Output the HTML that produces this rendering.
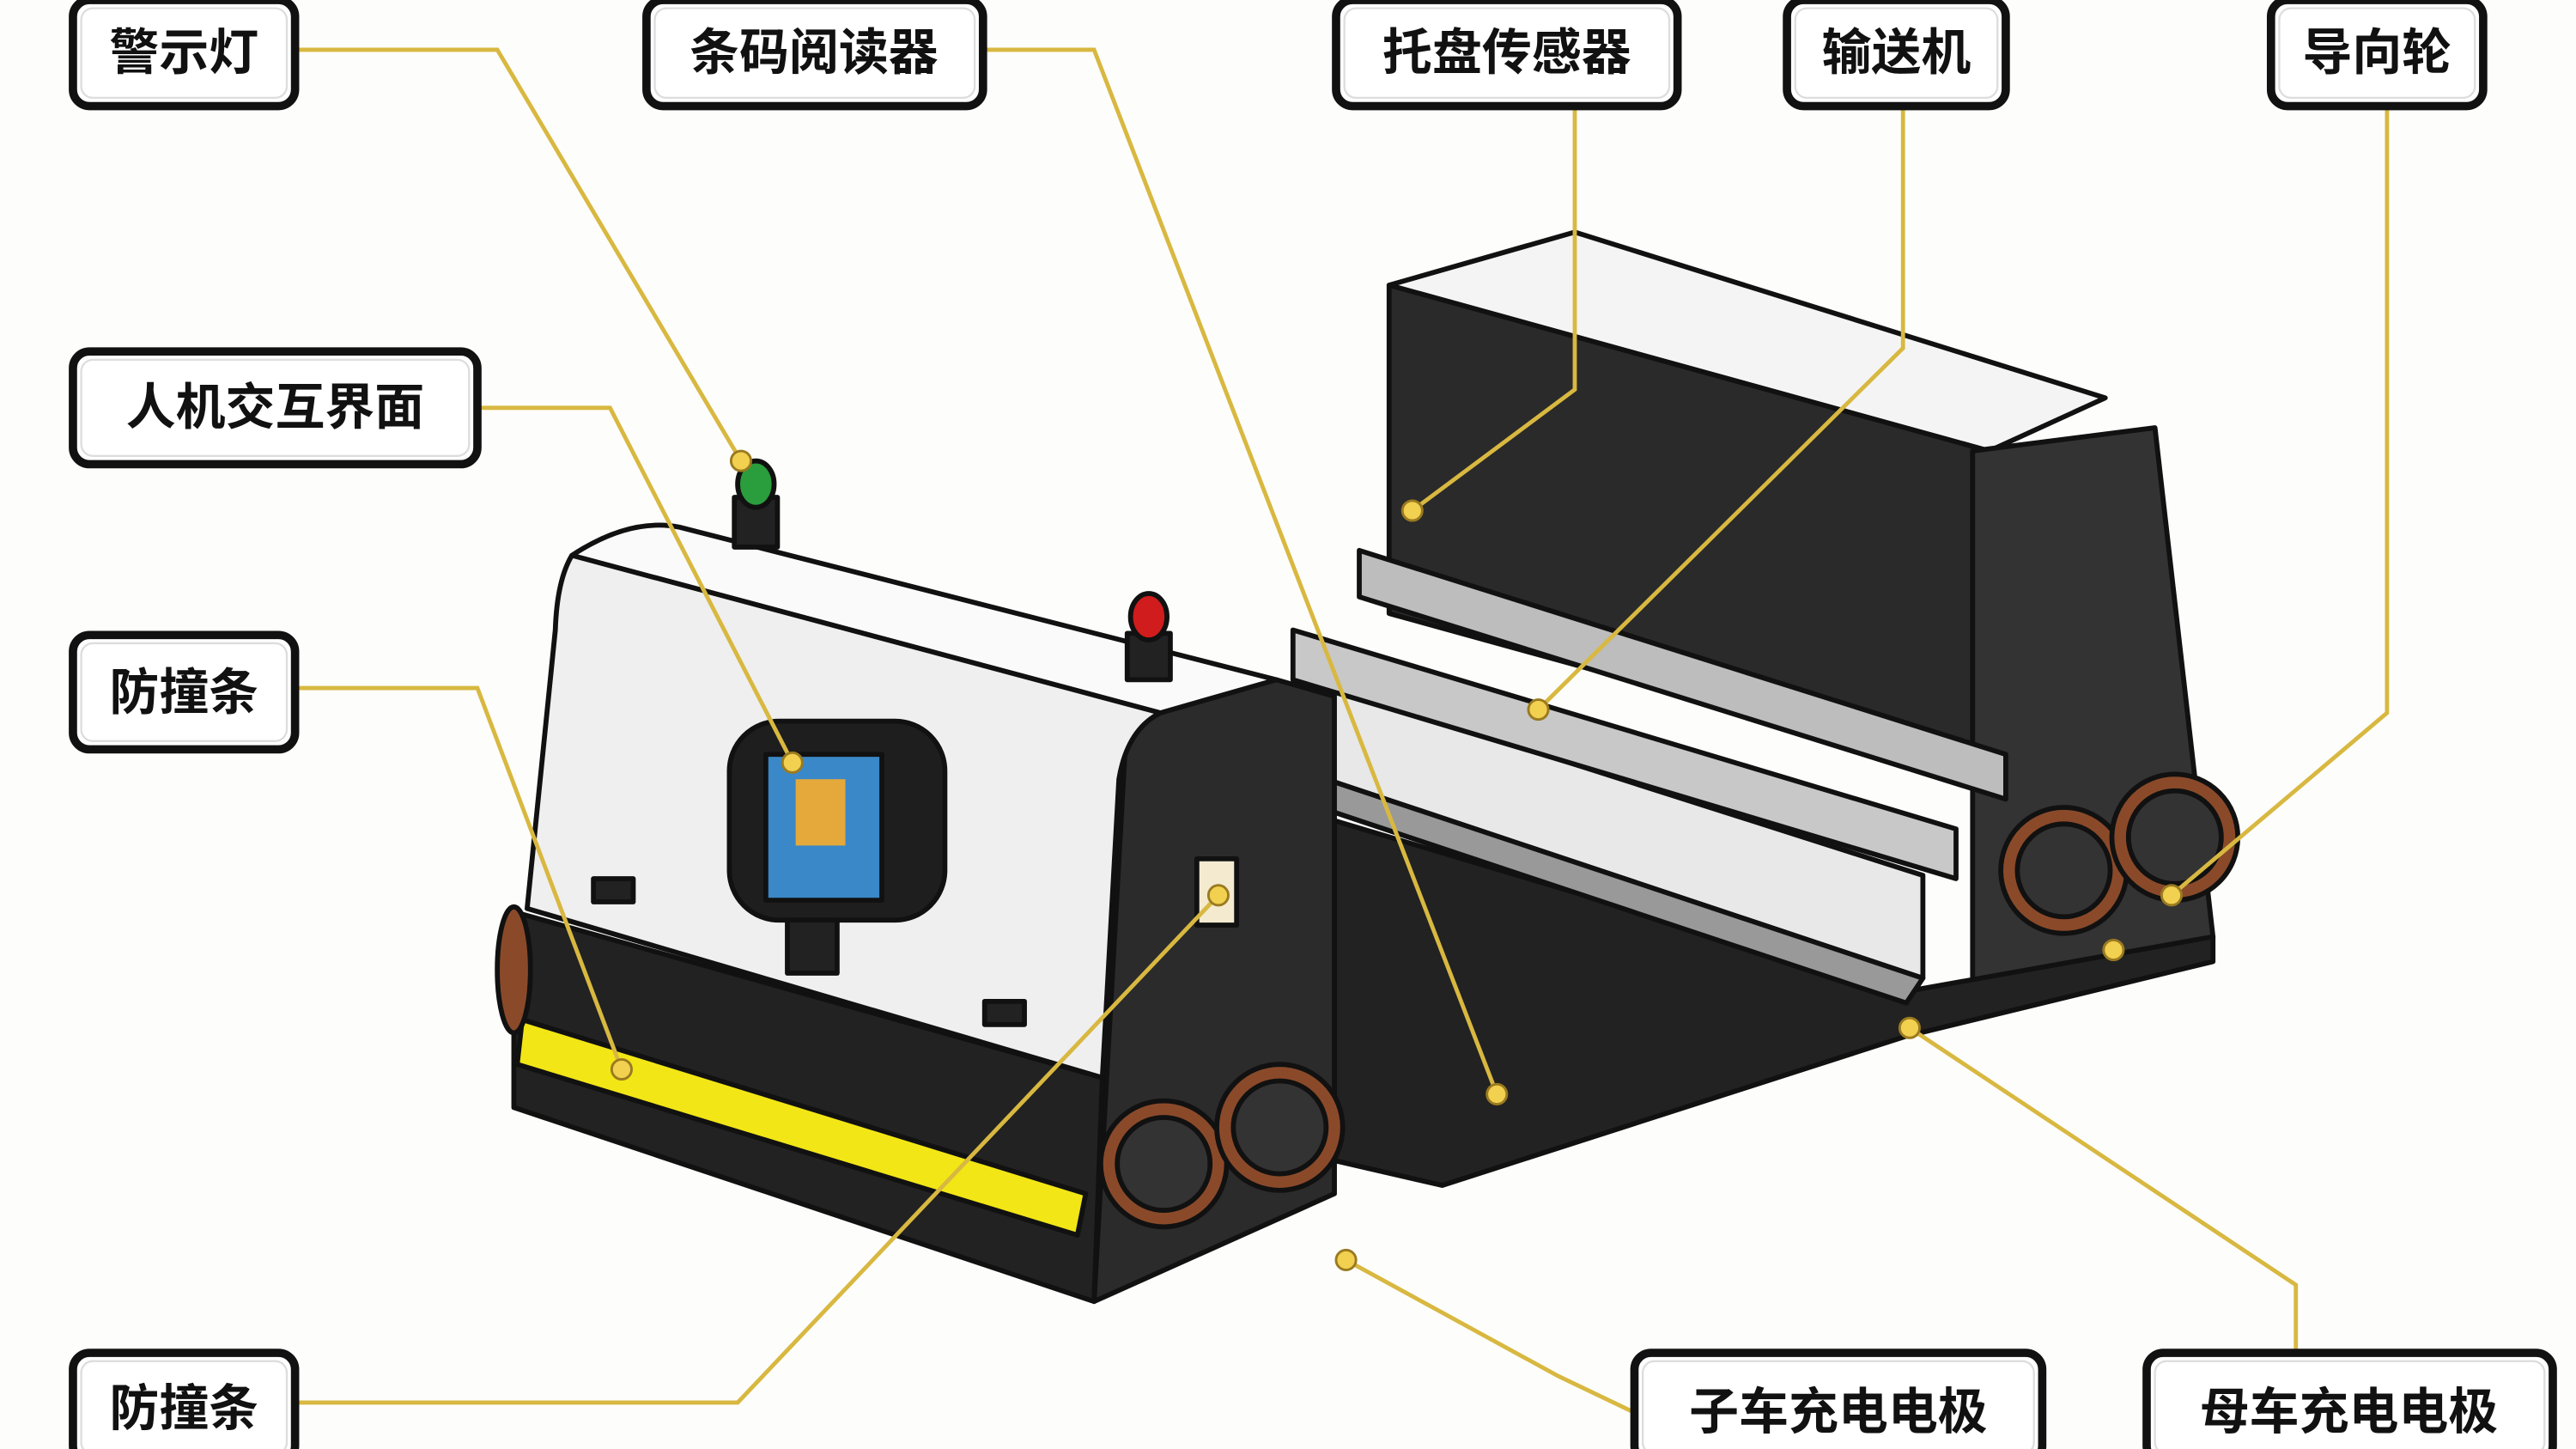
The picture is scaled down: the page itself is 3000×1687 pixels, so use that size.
<!DOCTYPE html>
<html><head><meta charset="utf-8"><style>
html,body{margin:0;padding:0;background:#fff;}
svg{display:block;}
text{font-family:"Liberation Sans","Noto Sans CJK SC",sans-serif;font-size:30px;font-weight:bold;fill:#111;text-anchor:middle;dominant-baseline:central;}
</style></head><body>
<svg width="3000" height="1687" viewBox="0 0 1554 874" preserveAspectRatio="none" xmlns="http://www.w3.org/2000/svg">
<rect width="1554" height="874" fill="#fdfdfb"/>
<g stroke="#111" stroke-width="3" stroke-linejoin="round">
<polygon points="838,172 950,140 1270,240 1200,272" fill="#f4f4f4"/>
<polygon points="838,172 1200,272 1200,470 838,370" fill="#2a2a2a"/>
<polygon points="1190,272 1300,258 1335,565 1190,610" fill="#333"/>
<polygon points="805,495 1150,598 1335,565 1335,580 1150,625 870,715 805,700" fill="#222"/>
<polygon points="820,332 1210,455 1210,482 820,360" fill="#bdbdbd"/>
<polygon points="790,410 1160,528 1160,590 800,470" fill="#e8e8e8"/>
<polygon points="780,380 1180,500 1180,530 780,410" fill="#c8c8c8"/>
<polygon points="800,470 1160,590 1150,605 805,490" fill="#999"/>
<polygon points="680,430 770,410 805,420 805,720 660,785" fill="#2b2b2b"/>
<polygon points="310,550 665,650 660,785 310,668" fill="#222"/>
<polygon points="315,615 655,720 650,745 312,642" fill="#f2e616"/>
<path d="M345,335 Q380,312 410,318 L770,410 L700,430 Z" fill="#fafafa"/>
<path d="M345,335 L700,430 Q680,440 675,470 L665,650 L318,548 L335,380 Q336,350 345,335 Z" fill="#efefef"/>
<rect x="440" y="435" width="130" height="120" rx="30" fill="#1e1e1e"/>
<rect x="462" y="455" width="70" height="88" fill="#3a88c8"/>
<rect x="480" y="470" width="30" height="40" fill="#e5a83a" stroke="none"/>
<rect x="475" y="555" width="30" height="32" fill="#222"/>
<rect x="358" y="530" width="24" height="14" fill="#222"/>
<rect x="594" y="604" width="24" height="14" fill="#222"/>
<rect x="722" y="518" width="24" height="40" fill="#f3ead0"/>
<rect x="443" y="300" width="26" height="30" fill="#222"/>
<ellipse cx="456" cy="292" rx="11" ry="14" fill="#2a9d3c"/>
<rect x="680" y="382" width="26" height="28" fill="#222"/>
<ellipse cx="693" cy="372" rx="11" ry="14" fill="#d01c1c"/>
<g fill="#8a4a2a"><circle cx="702" cy="702" r="38"/><circle cx="772" cy="680" r="38"/><circle cx="1245" cy="525" r="38"/><circle cx="1312" cy="505" r="38"/></g>
<g fill="#333"><circle cx="702" cy="702" r="28"/><circle cx="772" cy="680" r="28"/><circle cx="1245" cy="525" r="28"/><circle cx="1312" cy="505" r="28"/></g>
<ellipse cx="310" cy="585" rx="10" ry="38" fill="#8a4a2a"/>
</g>
<g fill="none" stroke="#d8b840" stroke-width="2.5">
<polyline points="178,30 300,30 447,278"/>
<polyline points="593,30 660,30 903,660"/>
<polyline points="950,64 950,235 852,308"/>
<polyline points="1148,64 1148,210 928,428"/>
<polyline points="1440,64 1440,430 1310,540"/>
<polyline points="288,246 368,246 478,460"/>
<polyline points="178,415 288,415 375,645"/>
<polyline points="178,846 445,846 735,540"/>
<polyline points="986,852 940,830 812,760"/>
<polyline points="1385,816 1385,775 1152,620"/>
</g>
<g fill="#f2d050" stroke="#9a7a20" stroke-width="1.5">
<circle cx="447" cy="278" r="6"/><circle cx="903" cy="660" r="6"/><circle cx="852" cy="308" r="6"/>
<circle cx="928" cy="428" r="6"/><circle cx="1310" cy="540" r="6"/><circle cx="478" cy="460" r="6"/>
<circle cx="375" cy="645" r="6"/><circle cx="735" cy="540" r="6"/><circle cx="812" cy="760" r="6"/>
<circle cx="1152" cy="620" r="6"/><circle cx="1275" cy="573" r="6"/>
</g>
<g fill="#fff" stroke="#111" stroke-width="5">
<rect x="44" y="0" width="134" height="64" rx="10"/>
<rect x="390" y="0" width="203" height="64" rx="10"/>
<rect x="806" y="0" width="206" height="64" rx="10"/>
<rect x="1078" y="0" width="132" height="64" rx="10"/>
<rect x="1370" y="0" width="128" height="64" rx="10"/>
<rect x="44" y="212" width="244" height="68" rx="10"/>
<rect x="44" y="383" width="134" height="69" rx="10"/>
<rect x="44" y="816" width="134" height="66" rx="10"/>
<rect x="986" y="816" width="246" height="66" rx="10"/>
<rect x="1295" y="816" width="245" height="66" rx="10"/>
</g>
<g fill="none" stroke="#ddd" stroke-width="1.2">
<rect x="49" y="5" width="124" height="54" rx="7"/>
<rect x="395" y="5" width="193" height="54" rx="7"/>
<rect x="811" y="5" width="196" height="54" rx="7"/>
<rect x="1083" y="5" width="122" height="54" rx="7"/>
<rect x="1375" y="5" width="118" height="54" rx="7"/>
<rect x="49" y="217" width="234" height="58" rx="7"/>
<rect x="49" y="388" width="124" height="59" rx="7"/>
<rect x="49" y="821" width="124" height="56" rx="7"/>
<rect x="991" y="821" width="236" height="56" rx="7"/>
<rect x="1300" y="821" width="235" height="56" rx="7"/>
</g>
<text x="111" y="32">警示灯</text>
<text x="491" y="32">条码阅读器</text>
<text x="909" y="32">托盘传感器</text>
<text x="1144" y="32">输送机</text>
<text x="1434" y="32">导向轮</text>
<text x="166" y="246">人机交互界面</text>
<text x="111" y="418">防撞条</text>
<text x="111" y="850">防撞条</text>
<text x="1109" y="852">子车充电电极</text>
<text x="1417" y="852">母车充电电极</text>
</svg>
</body></html>
